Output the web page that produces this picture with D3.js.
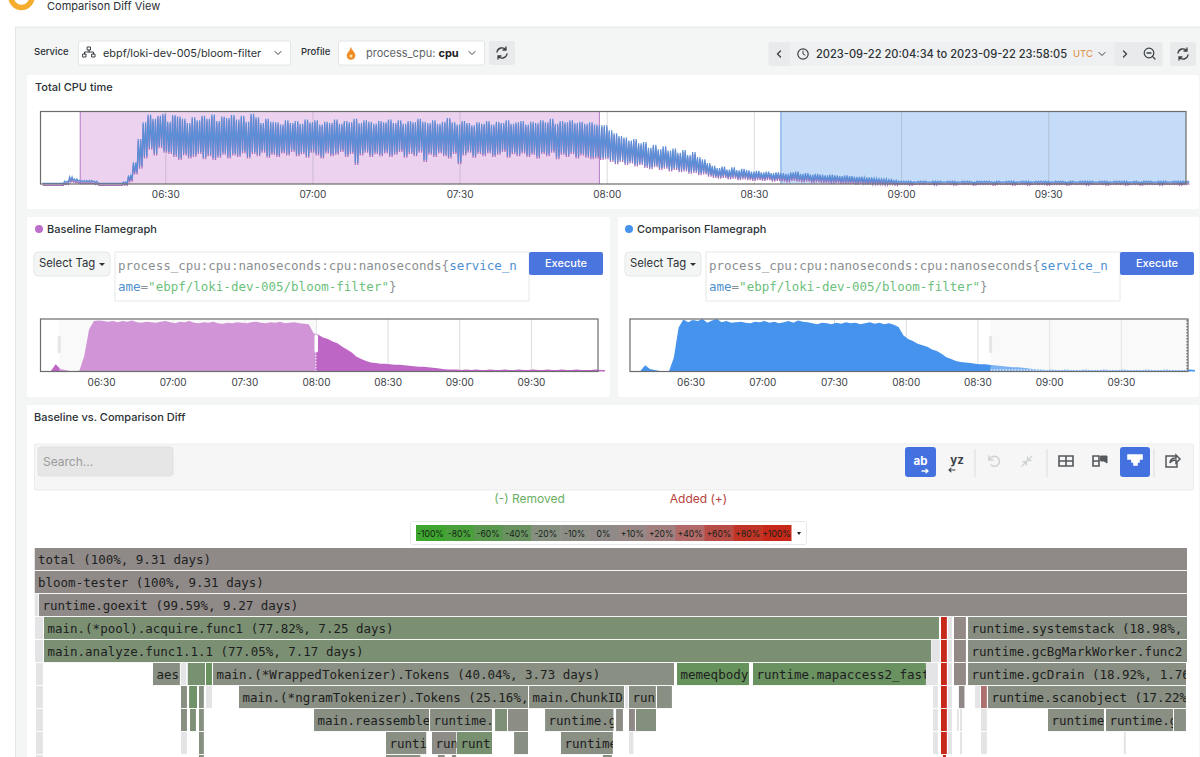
<!DOCTYPE html>
<html>
<head>
<meta charset="utf-8">
<script src="https://cdn.jsdelivr.net/npm/d3@7"></script>
<style>
  html, body { margin: 0; padding: 0; background: #fff; overflow: hidden; }
  svg { display: block; }
  text { font-family: Inter, "Noto Sans", sans-serif; fill: #2c3235; }
  .mono { font-family: "DejaVu Sans Mono", monospace; }
  .tick text { font-size: 10px; fill: #3a4045; }
</style>
</head>
<body>
<script>
// one sample a minute from 06:05, % of the chart height
const cpuPeak = [
  1,1,1,1,1,4,10,7,5,5,
  5,4,1,1,1,1,1,3,12,30,
  62,85,96,90,94,97,86,95,93,90,
  84,92,88,94,90,96,87,93,91,95,
  89,94,86,97,92,84,90,86,85,82,
  88,84,87,83,89,85,88,82,86,84,
  89,83,87,85,90,84,88,86,83,87,
  85,89,84,88,83,87,85,90,86,84,
  88,83,86,91,85,82,87,84,81,85,
  83,87,82,86,84,88,83,85,87,82,
  86,84,88,85,90,83,87,85,88,84,
  86,83,85,82,81,81,74,70,66,64,
  60,62,56,58,50,54,48,52,46,49,
  43,47,40,44,37,34,29,25,22,24,
  20,23,19,21,19,17,18,16,17,15,
  16,15,14,16,17,14,15,13,14,13,
  12,13,12,11,12,11,10,10,9,9,
  8,7,7,6,5,4,4,4,3,4,
  4,3,4,4,3,4,4,3,4,4,
  3,4,4,4,3,4,3,4,4,3,
  4,4,3,4,4,4,3,4,4,3,
  4,3,4,4,4,3,4,4,3,4,
  4,4,3,4,3,4,4,3,4,4,
  3,4,4,4
];
const cpuDip = [
  1,1,1,1,1,2,5,4,3,3,
  3,2,1,1,1,1,1,1,6,16,
  24,38,50,42,52,46,44,40,36,42,
  38,40,44,37,41,36,39,43,38,42,
  40,45,38,44,41,46,39,43,40,45,
  42,47,41,44,39,46,42,38,45,41,
  43,47,40,44,29,42,46,40,44,41,
  45,40,43,47,39,44,41,46,33,43,
  40,45,41,38,44,30,42,46,39,44,
  41,45,40,43,47,39,44,41,45,40,
  43,38,44,41,46,37,43,40,44,38,
  42,39,37,38,36,37,33,30,33,29,
  31,27,29,25,23,26,22,24,20,22,
  19,20,17,18,15,16,13,11,10,11,
  9,10,8,9,8,7,8,7,8,6,
  7,6,5,7,6,5,6,4,5,4,
  4,3,4,3,3,3,2,3,2,2,
  2,2,1,2,1,2,2,1,2,2,
  2,2,1,2,2,2,1,2,2,2,
  1,2,2,2,1,2,2,2,1,2,
  2,1,2,2,2,1,2,2,2,1,
  2,2,2,1,2,2,2,1,2,2,
  2,1,2,2,1,2,2,2,1,2,
  2,2,1,2
];

// one sample every two minutes from 06:05
const baselineTotal = [
  0,0,1,14,5,3,1,0,2,30,80,96,
  97,96,95,96,94,96,95,97,94,93,
  95,94,93,95,96,94,92,95,94,96,
  93,92,94,93,95,92,91,93,92,94,
  93,92,94,95,93,92,94,93,95,92,
  93,94,92,91,90,73,70,65,62,57,
  54,47,42,36,28,24,20,17,16,15,
  15,14,13,13,12,11,10,9,9,8,
  7,6,5,4,4,4,3,4,3,4,
  3,3,4,3,3,4,3,3,4,3,
  3,4,3,3,4,3,3,4,3,3,
  4,3,3,3,4,3,3
];
const comparisonTotal = [
  0,0,1,12,5,3,1,0,1,26,84,99,
  94,98,96,100,93,97,100,94,96,93,
  94,95,93,92,95,94,96,93,95,92,
  94,96,93,97,95,94,92,90,93,92,
  90,93,91,94,92,93,90,92,94,91,
  93,90,92,89,85,69,62,58,53,50,
  47,42,39,34,27,24,20,18,17,16,
  15,14,14,13,12,11,10,9,8,8,
  7,6,5,4,4,3,4,3,3,4,
  3,3,3,4,3,3,3,4,3,3,
  3,4,3,3,3,3,4,3,3,3,
  4,3,3,3,3,4,3
];

const legendValues = [-100,-80,-60,-40,-20,-10,0,10,20,40,60,80,100];
const legendColors = ["#3ea52e","#4aa03a","#5a9850","#6a9160","#869080","#8c8e86","#8f8a88","#978885","#a28080","#b16a68","#b84c46","#c13526","#c6281a"];

// [start %, width %, diff %, label]; diff null is a frame too small to colour
const flameRows = [
  [[0,100,0,"total (100%, 9.31 days)"]],
  [[0,100,0,"bloom-tester (100%, 9.31 days)"]],
  [[0,.35,null],[.39,99.61,0,"runtime.goexit (99.59%, 9.27 days)"]],
  [[.04,.7,null],[.82,77.66,-28,"main.(*pool).acquire.func1 (77.82%, 7.25 days)"],[78.65,.52,100],[79.26,.35,null],[79.78,1.04,5],[81,19,-16,"runtime.systemstack (18.98%, 1.77 days)"]],
  [[.04,.7,null],[.82,77,-28,"main.analyze.func1.1.1 (77.05%, 7.17 days)"],[77.87,.69,null],[78.65,.52,100],[79.26,.35,null],[79.78,1.04,5],[81,19,-16,"runtime.gcBgMarkWorker.func2 (18.95%, 1.76 days)"]],
  [[.13,.6,null],[10.28,2.34,-15,"aes"],[12.67,.52,null],[13.28,1.52,-30],[14.88,.52,-42],[15.49,40,-15,"main.(*WrappedTokenizer).Tokens (40.04%, 3.73 days)"],[55.75,6.25,-45,"memeqbody"],[62.34,15.01,-40,"runtime.mapaccess2_faststr"],[77.35,1.04,null],[78.65,.52,100],[79.26,.35,null],[79.78,1.04,5],[81,18.92,-16,"runtime.gcDrain (18.92%, 1.76 days)"]],
  [[.13,.6,null],[12.71,.52,-15],[13.41,.69,-35],[14.27,.43,-20],[14.88,.52,null],[17.74,25.08,-15,"main.(*ngramTokenizer).Tokens (25.16%, 2.34 days)"],[42.91,8.24,-15,"main.ChunkID"],[51.24,.26,null],[51.58,2.34,-15,"runtime"],[54.01,1.3,-15],[77.96,.43,null],[78.65,.52,100],[79.26,.35,null],[80.19,.52,3],[81.61,.43,null],[82.12,.52,35],[82.73,17.18,-16,"runtime.scanobject (17.22%, 1.60 days)"]],
  [[.13,.6,null],[12.71,.52,-15],[13.49,.52,-25],[14.27,.43,-20],[24.25,9.98,-16,"main.reassemble"],[34.32,5.38,-16,"runtime.gcWriteBarrier"],[39.96,1.04,-25],[41.08,1.74,-10],[44.3,5.95,-15,"runtime.growslice"],[50.46,.6,-8],[51.58,.52,0],[52.19,1.74,-22],[77.96,.43,null],[78.65,.52,100],[79.26,.35,null],[80.04,.17,null],[80.3,.2,null],[82.12,.52,null],[87.94,4.86,-15,"runtime.pageIndexOf"],[92.97,5.82,-15,"runtime.greyobject"],[98.87,1.04,-15]],
  [[.13,.6,null],[12.71,.52,null],[14.27,.43,-20],[30.5,3.51,-15,"runtime"],[34.49,2.13,-5,"runtime"],[36.66,3.04,-30,"runtime"],[41.61,1.21,-15],[45.68,4.51,-14,"runtime.mallocgc"],[51.58,.4,null],[77.96,.43,null],[78.65,.52,100],[79.26,.35,null],[80.3,.2,null],[82.12,.52,null],[94.5,.2,null]],
  [[.13,.6,null],[30.5,3,-15],[35,.6,-8],[36.2,.4,-8],[49.3,.8,-20],[14.27,.43,-20],[78.8,.3,100]]
];

const frameColor = d3.scaleLinear().domain(legendValues).range(legendColors);

const at = (h, m, s = 0) => new Date(Date.UTC(2023, 8, 22, h, m, s));
const tickTimes = [at(6,30), at(7,0), at(7,30), at(8,0), at(8,30), at(9,0), at(9,30)];
const fromStart = (minutes) => new Date(+at(6,5) + minutes * 60000);
const baseStart = at(6,12,40), baseEnd = at(7,58,30);
const compStart = at(8,35,30), compEnd = at(9,58,5);

const svg = d3.select("body").append("svg").attr("width", 1200).attr("height", 757);

function label(x, y, str, size, opts = {}) {
  return svg.append("text").attr("x", x).attr("y", y).text(str)
    .style("font-size", size + "px")
    .style("font-weight", opts.weight || 400)
    .style("fill", opts.fill || "#2c3235")
    .attr("text-anchor", opts.anchor || "start");
}
function box(x, y, w, h, fill, stroke, r = 2) {
  return svg.append("rect").attr("x", x).attr("y", y).attr("width", w).attr("height", h)
    .attr("rx", r).attr("fill", fill).attr("stroke", stroke || "none");
}
function icon(d, x, y, opts = {}) {
  return svg.append("path").attr("d", d).attr("transform", `translate(${x},${y})`)
    .attr("fill", opts.fill || "none").attr("stroke", opts.stroke || "#3a4045")
    .attr("stroke-width", opts.width || 1.3).attr("stroke-linecap", "round");
}
const chevronDown = "M-3,-1.5L0,1.5L3,-1.5";
const refresh = "M-5,-1A5,5 0 0 1 4,-3M5,1A5,5 0 0 1 -4,3M4,-6V-3H1M-4,6V3H-1";

// page shell
svg.append("circle").attr("cx", 21.5).attr("cy", -3).attr("r", 10.5).attr("fill", "none").attr("stroke", "#f5ad2e").attr("stroke-width", 5.5);
label(47, 10, "Comparison Diff View", 11);
box(15.5, 27, 1200, 740, "#f4f5f5", "#e4e6e6", 0);
box(27, 75, 1172, 134, "#fff");
box(27, 217, 583, 180, "#fff");
box(618, 217, 581, 180, "#fff");
box(27, 405, 1172, 360, "#fff");

// query bar
label(34, 55, "Service", 9.5, {weight: 500});
box(78.5, 41, 212, 24, "#fff", "#e3e5e6");
icon("M-1.5,-6H1.5V-3H-1.5ZM-6,1H-3V4H-6ZM3,1H6V4H3ZM0,-3V-1M-4.5,1V-1H4.5V1", 89, 53, {width: 1});
label(103, 57, "ebpf/loki-dev-005/bloom-filter", 10.9);
icon(chevronDown, 278, 53, {width: 1});
label(301, 55, "Profile", 9.5, {weight: 500});
box(338.5, 41, 146, 24, "#fff", "#e3e5e6");
icon("M0,-6C1,-3 4,-2 4,1.5A4,4 0 0 1 -4,1.5C-4,-1 -1.5,-2 0,-6Z", 351, 54, {fill: "#f08a24", stroke: "#f08a24", width: .6});
svg.append("circle").attr("cx", 351).attr("cy", 56).attr("r", 1.6).attr("fill", "#ffe2a8");
const profileText = label(366, 57, "process_cpu: ", 11, {fill: "#5d6468"});
profileText.append("tspan").text("cpu").style("font-weight", 700).style("fill", "#1c2124");
icon(chevronDown, 472, 53, {width: 1});
box(489, 41, 26, 24, "#e8eaeb");
icon(refresh, 502, 53);

// time range picker
box(768.5, 42, 394, 24, "#e8eaeb");
box(790, 42, 325, 24, "#eff0f1");
icon("M1.5,-3L-1.5,0L1.5,3", 779, 54);
svg.append("circle").attr("cx", 803).attr("cy", 54).attr("r", 5.2).attr("fill", "none").attr("stroke", "#3a4045").attr("stroke-width", 1.2);
icon("M0,-3V0L2,1", 803, 54, {width: 1});
label(816, 58, "2023-09-22 20:04:34 to 2023-09-22 23:58:05", 11.1, {weight: 500});
label(1073, 57, "UTC", 9.5, {fill: "#e08a3c"});
icon(chevronDown, 1102, 54, {width: 1});
icon("M-1.5,-3L1.5,0L-1.5,3", 1125, 54);
svg.append("circle").attr("cx", 1149).attr("cy", 53).attr("r", 4.8).attr("fill", "none").attr("stroke", "#3a4045").attr("stroke-width", 1.2);
icon("M-2,0H2M3.4,3.4L6,6", 1149, 53);
box(1170, 42, 26, 24, "#e8eaeb");
icon(refresh, 1183, 54);

// total CPU chart
label(35, 91, "Total CPU time", 11, {weight: 500});
const mainX = d3.scaleUtc().domain([at(6,4,34), at(9,58,5)]).range([40.5, 1186]);
const mainY = d3.scaleLinear().domain([0, 100]).range([184, 111.5]);
const mainH = mainY(0) - mainY(100);

function selectionRect(x0, x1, fill) {
  svg.append("rect").attr("x", x0).attr("y", mainY(100)).attr("width", x1 - x0).attr("height", mainH).attr("fill", fill);
}
selectionRect(mainX(baseStart), mainX(baseEnd), "#ecd2ef");
selectionRect(mainX(compStart), mainX(compEnd), "#c5dcf8");

const mainAxis = svg.append("g").attr("transform", `translate(0,${mainY(0)})`)
  .call(d3.axisBottom(mainX).tickValues(tickTimes).tickFormat(d3.utcFormat("%H:%M")).tickSize(-mainH).tickPadding(7));
mainAxis.select(".domain").remove();
mainAxis.selectAll(".tick line").attr("stroke", "#6a6a6a").attr("stroke-opacity", .22);

[[baseStart, "#b27cc2"], [baseEnd, "#b27cc2"], [compStart, "#6a9de0"]].forEach(([t, c]) => {
  svg.append("line").attr("x1", mainX(t)).attr("x2", mainX(t)).attr("y1", mainY(100)).attr("y2", mainY(0)).attr("stroke", c);
});

// a peak and a dip every half minute
const zigzag = cpuPeak.flatMap((p, i) => [
  [fromStart(i), p],
  [fromStart(i + .25), cpuDip[i]],
  [fromStart(i + .5), cpuPeak[Math.min(i + 1, cpuPeak.length - 1)]],
  [fromStart(i + .75), cpuDip[Math.min(i + 1, cpuDip.length - 1)]]
]);
const cpuLine = d3.line().x(d => mainX(d[0])).y(d => mainY(d[1]));
svg.append("path").attr("d", cpuLine(zigzag)).attr("fill", "none").attr("stroke", "#a873ba")
  .attr("stroke-width", 1.2).attr("transform", "translate(0,2)");
svg.append("path").attr("d", cpuLine(zigzag)).attr("fill", "none").attr("stroke", "#5a8ed6").attr("stroke-width", 1.2);
svg.append("rect").attr("x", mainX.range()[0]).attr("y", mainY(100)).attr("width", mainX.range()[1] - mainX.range()[0]).attr("height", mainH)
  .attr("fill", "none").attr("stroke", "#6b6b6b").attr("stroke-width", 1.2);

// baseline and comparison panels
function queryPanel(title, dot, x, titleShift) {
  svg.append("circle").attr("cx", x + 4 + titleShift).attr("cy", 229).attr("r", 4).attr("fill", dot);
  label(x + 12 + titleShift, 233, title, 11, {weight: 500});
  box(x, 252, 76, 24, "#f4f5f5", "#e6e8e8", 4);
  label(x + 5, 267, "Select Tag", 11.3);
  svg.append("path").attr("d", "M0,0H6L3,3Z").attr("transform", `translate(${x + 65},263)`).attr("fill", "#2c3235");
  box(x + 81, 252, 414, 49, "#fff", "#e6e8e8", 0);
  const first = label(x + 84, 270, "process_cpu:cpu:nanoseconds:cpu:nanoseconds{", 12.5, {fill: "#8a8f92"}).attr("class", "mono");
  first.append("tspan").text("service_n").style("fill", "#4f8fcf");
  const second = label(x + 84, 291, "ame", 12.5, {fill: "#4f8fcf"}).attr("class", "mono");
  second.append("tspan").text("=").style("fill", "#8a8f92");
  second.append("tspan").text("\"ebpf/loki-dev-005/bloom-filter\"").style("fill", "#6cbf7c");
  second.append("tspan").text("}").style("fill", "#8a8f92");
  box(x + 495, 252, 74, 23, "#4a74de", null, 2);
  label(x + 532, 267, "Execute", 11, {fill: "#fff", anchor: "middle", weight: 500});
}
queryPanel("Baseline Flamegraph", "#bd6fcb", 34, 1);
queryPanel("Comparison Flamegraph", "#4593ec", 625, 0);

function miniChart(values, range, color, selStart, selEnd) {
  const x = d3.scaleUtc().domain([at(6,4,40), at(9,58,5)]).range(range);
  const y = d3.scaleLinear().domain([0, 100]).range([371.5, 319]);
  const h = y(0) - y(100);
  svg.append("rect").attr("x", x(selStart)).attr("y", y(100)).attr("width", x(selEnd) - x(selStart)).attr("height", h).attr("fill", "#f7f7f7");
  const axis = svg.append("g").attr("transform", `translate(0,${y(0)})`)
    .call(d3.axisBottom(x).tickValues(tickTimes).tickFormat(d3.utcFormat("%H:%M")).tickSize(-h).tickPadding(7));
  axis.select(".domain").remove();
  axis.selectAll(".tick line").attr("stroke", "#dcdcdc");
  const area = d3.area().x((d, i) => x(fromStart(i * 2))).y0(y(0)).y1(d => y(d));
  svg.append("path").attr("d", area(values)).attr("fill", color);
  // the selected range is washed out
  svg.append("rect").attr("x", x(selStart)).attr("y", y(100)).attr("width", x(selEnd) - x(selStart)).attr("height", h)
    .attr("fill", "#fff").attr("fill-opacity", .3);
  svg.append("rect").attr("x", range[0]).attr("y", y(100)).attr("width", range[1] - range[0]).attr("height", h)
    .attr("fill", "none").attr("stroke", "#6b6b6b").attr("stroke-width", 1.2);
  return {x, y};
}
const baseMini = miniChart(baselineTotal, [40.5, 598], "#bd66c6", at(6,12,30), at(8,0));
const compMini = miniChart(comparisonTotal, [630, 1188], "#4593ec", compStart, compEnd);

// selection handles
svg.append("line").attr("x1", baseMini.x(at(8,0))).attr("x2", baseMini.x(at(8,0))).attr("y1", 322).attr("y2", 371)
  .attr("stroke", "#fff").attr("stroke-dasharray", "1.5 1.5");
box(baseMini.x(at(8,0)) - 1.5, 335, 3.5, 17, "#fff", null, 1);
box(baseMini.x(at(6,12,30)) - 1.5, 336, 3, 17, "#e6e6e6", null, 1);
svg.append("line").attr("x1", compMini.x(compStart)).attr("x2", 1187).attr("y1", 370).attr("y2", 370)
  .attr("stroke", "#fff").attr("stroke-dasharray", "1.5 1.5");
svg.append("line").attr("x1", 1187).attr("x2", 1187).attr("y1", 320).attr("y2", 371).attr("stroke", "#555").attr("stroke-dasharray", "1.5 1.5");
box(compMini.x(compStart) - 1.5, 336, 3, 17, "#e6e6e6", null, 1);

// diff panel
label(34, 421, "Baseline vs. Comparison Diff", 11, {weight: 500});
box(34.5, 444, 1159, 46, "#f6f6f6", "#ececec", 1);
box(38, 447, 135, 29, "#e6e6e6", "#e0e0e0", 3);
label(43, 466, "Search...", 12, {fill: "#9a9a9a"});

box(905, 447, 31, 30, "#4372e0", null, 3);
label(920.5, 465, "ab", 11.5, {fill: "#fff", anchor: "middle", weight: 700});
icon("M-3,0H3M1,-1.8L3,0L1,1.8", 925, 471, {stroke: "#fff", width: 1.3});
label(957, 464, "yz", 11.5, {fill: "#3a4045", anchor: "middle", weight: 700});
icon("M3,0H-3M-1,-1.8L-3,0L-1,1.8", 952, 470, {width: 1.1});
icon("M-4,-2A5,5 0 1 1 -3,4M-5,-5V-1H-1", 994, 461, {stroke: "#cfd1d2", width: 1.5});
icon("M-5,5L-1,1M5,-5L1,-1M-4,0.5H-0.5V4M4,-0.5H0.5V-4", 1027, 461, {stroke: "#cfd1d2", width: 1.3});
[975, 1047, 1154].forEach(x => {
  svg.append("line").attr("x1", x).attr("x2", x).attr("y1", 449).attr("y2", 477).attr("stroke", "#dcdcdc");
});
icon("M-7,-5H7V5H-7ZM-7,0H7M0,-5V5", 1066, 461, {stroke: "#55595c", width: 1.6});
icon("M-7,-5H-1V5H-7ZM-7,0H-1", 1100, 461, {stroke: "#55595c", width: 1.6});
icon("M1,-5H7V2L4,0H1Z", 1100, 461, {fill: "#55595c", stroke: "#55595c", width: 1});
box(1120, 447, 30, 30, "#4372e0", null, 3);
icon("M-7,-5H7V-1H4V2H2V5H-1V2H-3V-1H-7Z", 1135, 460, {fill: "#fff", stroke: "#fff", width: 1.6});
icon("M3,-5H-6V6H5V2M-2,2C-2,-2 1,-3 4,-3V-6L8,-2L4,2V-1C1,-1 -1,0 -2,2Z", 1172, 461, {stroke: "#55595c", width: 1.5});

label(529.5, 503, "(-) Removed", 12, {fill: "#6aae64", anchor: "middle"});
label(698.5, 503, "Added (+)", 12, {fill: "#b8413c", anchor: "middle"});

// legend strip
box(410.5, 521.5, 396, 23, "#fff", "#e8e8e8", 2);
const legendX = d3.scaleBand().domain(legendValues).range([416, 791]);
const legendCells = svg.append("g").selectAll("g").data(legendValues).join("g");
legendCells.append("rect").attr("x", d => legendX(d)).attr("y", 525).attr("width", legendX.bandwidth() + .5).attr("height", 16)
  .attr("fill", (d, i) => legendColors[i]);
legendCells.append("text").attr("x", d => legendX(d) + legendX.bandwidth() / 2).attr("y", 536.5)
  .attr("text-anchor", "middle").style("font-size", "8.6px").style("fill", "#16221a")
  .text(d => (d > 0 ? "+" : "") + d + "%");
svg.append("path").attr("d", "M0,0H4L2,3Z").attr("transform", "translate(797,532)").attr("fill", "#222");

// flamegraph
const flameX = d3.scaleLinear().domain([0, 100]).range([34.5, 1187]);
const flameY = d3.scaleLinear().domain([0, 1]).range([548, 571]);
const flameFrames = flameRows.flatMap((row, level) => row.map(f => ({level, start: f[0], width: f[1], diff: f[2], name: f[3]})));
const frameW = d => flameX(d.start + d.width) - flameX(d.start);

const frames = svg.append("g").selectAll("svg").data(flameFrames).join("svg")
  .attr("x", d => flameX(d.start))
  .attr("y", d => flameY(d.level))
  .attr("width", frameW)
  .attr("height", 22.3);
frames.append("rect").attr("width", "100%").attr("height", "100%")
  .attr("fill", d => d.diff === null ? "#e4e4e6" : frameColor(d.diff));
// only as many characters as reach the frame's edge
frames.filter(d => d.name).append("text").attr("class", "mono")
  .attr("x", 3.5).attr("y", 16).style("font-size", "12.5px").style("fill", "#1d2020")
  .text(d => d.name.slice(0, Math.ceil((frameW(d) - 3.5) / 7.53)));
</script>
</body>
</html>
